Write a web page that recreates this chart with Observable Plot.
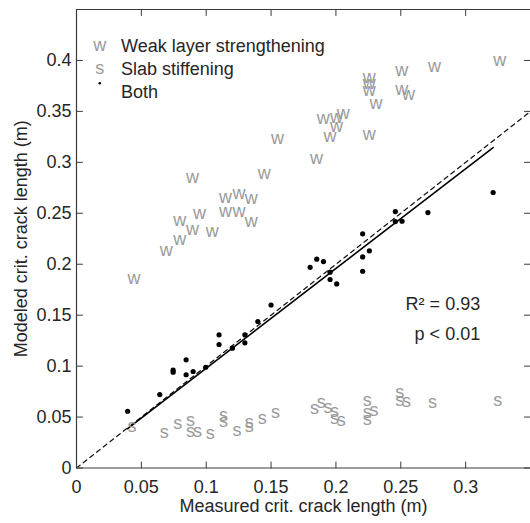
<!DOCTYPE html>
<html><head><meta charset="utf-8">
<script src="https://cdn.jsdelivr.net/npm/d3@7"></script>
<script src="https://cdn.jsdelivr.net/npm/@observablehq/plot@0.6"></script>
<style>
html,body{margin:0;padding:0;background:#fff;overflow:hidden;}
#chart svg{display:block;}
</style></head><body><div id="chart"></div>
<script>
// ---- data ----
const bothMeasured = [0.0394,0.0642,0.0745,0.0745,0.0845,0.0845,0.0899,0.0996,0.1099,0.1099,0.1202,0.1298,0.1298,0.1398,0.150,0.1801,0.1852,0.1904,0.1955,0.1955,0.2006,0.2206,0.2258,0.2206,0.2206,0.2458,0.2458,0.251,0.2709,0.3212];
const bothModeled  = [0.0557,0.0721,0.096,0.094,0.1062,0.0915,0.0947,0.0989,0.1307,0.1212,0.1176,0.1307,0.1229,0.1438,0.160,0.197,0.205,0.2026,0.1922,0.185,0.1807,0.2298,0.2131,0.2072,0.1931,0.2517,0.2419,0.2422,0.2507,0.2704];
const weakMeasured = [0.0394,0.0642,0.0745,0.0845,0.0745,0.0899,0.0996,0.0845,0.1099,0.1202,0.1298,0.1099,0.1202,0.1298,0.1398,0.150,0.1801,0.1852,0.1955,0.2006,0.1955,0.1904,0.2206,0.2206,0.2206,0.2206,0.2258,0.2458,0.2458,0.251,0.2709,0.3212];
const weakModeled  = [0.186,0.214,0.225,0.234,0.243,0.250,0.232,0.285,0.266,0.270,0.265,0.252,0.252,0.242,0.289,0.324,0.304,0.343,0.344,0.348,0.335,0.326,0.328,0.384,0.378,0.371,0.358,0.390,0.372,0.367,0.394,0.400];
const slabMeasured = [0.0394,0.0642,0.0745,0.0845,0.0845,0.0899,0.0996,0.1099,0.1099,0.1202,0.1298,0.1298,0.1398,0.150,0.1801,0.1852,0.1904,0.1955,0.1955,0.2006,0.2206,0.2206,0.2258,0.2206,0.2458,0.2458,0.251,0.2709,0.3212];
const slabModeled  = [0.041,0.035,0.0443,0.0473,0.0361,0.0361,0.0345,0.052,0.046,0.0375,0.045,0.041,0.0485,0.0545,0.059,0.0646,0.0597,0.0554,0.0489,0.0466,0.0665,0.0545,0.057,0.048,0.0744,0.0662,0.0656,0.0646,0.0669];

const xTicks = [0,0.05,0.1,0.15,0.2,0.25,0.3];
const yTicks = [0,0.05,0.1,0.15,0.2,0.25,0.3,0.35,0.4];
const xDomain = [0,0.35];
const yDomain = [0,0.45];
const legendLabels = ["Weak layer strengthening","Slab stiffening","Both"];
const legendSymbols = ["w","s"];
const statsLines = ["R\u00B2 = 0.93","p < 0.01"];
const xLabel = "Measured crit. crack length (m)";
const yLabel = "Modeled crit. crack length (m)";

// ---- build ----
const both = bothMeasured.map((x,i)=>({x, y: bothModeled[i]}));
const weak = weakMeasured.map((x,i)=>({x, y: weakModeled[i]}));
const slab = slabMeasured.map((x,i)=>({x, y: slabModeled[i]}));
// least squares fit through the origin
const slope = d3.sum(both, d=>d.x*d.y) / d3.sum(both, d=>d.x*d.x);
const fitX = d3.extent(bothMeasured);

const FONT = "'Liberation Sans', Arial, Helvetica, sans-serif";
const AX = "#3a3a3a";
const TXT = "#262626";
const GRAY = "#9a9a9a";
const fmt = d => String(+d.toFixed(2));
const tickShape = {draw(ctx, l){ ctx.moveTo(0,0); ctx.lineTo(0,-l); }};
const tickOpts = {length:6, anchor:"start", shape:tickShape, stroke:AX, strokeWidth:1};

const legendMarks = legendLabels.map((lab,i)=>
  Plot.text([lab], {frameAnchor:"top-left", text:d=>d, dx:44.5, dy:30.2+23*i, textAnchor:"start", fill:TXT, fontSize:18})
);
const legendSymbolMarks = legendSymbols.map((s,i)=>
  Plot.text([s], {frameAnchor:"top-left", text:d=>d, dx:23.3, dy:28.7+23*i, textAnchor:"middle", fill:GRAY, fontSize:18})
);

const chart = Plot.plot({
  width: 530,
  height: 523,
  marginLeft: 76,
  marginRight: 0,
  marginTop: 9,
  marginBottom: 55.5,
  style: {fontFamily: FONT, fontSize: "18px", color: TXT, background: "#fff"},
  x: {domain: xDomain, axis: null},
  y: {domain: yDomain, axis: null},
  marks: [
    // 1:1 line
    Plot.line(xDomain, {x:d=>d, y:d=>d, stroke:"#111", strokeWidth:1.2, strokeDasharray:"4.5,4", clip:true}),
    // fit line
    Plot.line(fitX, {x:d=>d, y:d=>slope*d, stroke:"#000", strokeWidth:1.6}),
    Plot.text(weak, {x:"x", y:"y", text:()=>"w", textAnchor:"start", fill:GRAY, fontSize:18}),
    Plot.text(slab, {x:"x", y:"y", text:()=>"s", textAnchor:"start", fill:GRAY, fontSize:18}),
    Plot.dot(both, {x:"x", y:"y", r:2.6, fill:"#000", stroke:null}),
    // frame (left, bottom, top)
    Plot.ruleX([xDomain[0]], {stroke:AX, strokeWidth:1.2}),
    Plot.ruleY([yDomain[0]], {stroke:AX, strokeWidth:1.2}),
    Plot.ruleY([yDomain[1]], {stroke:AX, strokeWidth:1.2}),
    // inward ticks on four sides
    Plot.vector(xTicks, {x:d=>d, y:()=>yDomain[0], rotate:0, ...tickOpts}),
    Plot.vector(xTicks, {x:d=>d, y:()=>yDomain[1], rotate:180, ...tickOpts}),
    Plot.vector(yTicks, {x:()=>xDomain[0], y:d=>d, rotate:90, ...tickOpts}),
    Plot.vector(yTicks, {x:()=>xDomain[1], y:d=>d, rotate:-90, ...tickOpts}),
    // tick labels
    Plot.axisX(xTicks, {anchor:"bottom", tickSize:0, tickPadding:12.5, tickFormat:fmt, fill:TXT, fontSize:18, label:null}),
    Plot.axisY(yTicks, {anchor:"left", tickSize:0, tickPadding:5, tickFormat:fmt, fill:TXT, fontSize:18, label:null}),
    // axis titles
    Plot.text([xLabel], {frameAnchor:"bottom", text:d=>d, dy:44, textAnchor:"middle", fill:TXT, fontSize:18}),
    Plot.text([yLabel], {frameAnchor:"left", text:d=>d, dx:-55.5, rotate:-90, textAnchor:"middle", fill:TXT, fontSize:18}),
    // stats annotation
    Plot.text(statsLines, {x:()=>0.3112, y:(d,i)=>[0.161,0.1315][i], text:d=>d, textAnchor:"end", fill:TXT, fontSize:18}),
    // legend
    ...legendSymbolMarks,
    Plot.dot([legendLabels[2]], {frameAnchor:"top-left", dx:23.3, dy:73.8, r:1.3, fill:"#000", stroke:null}),
    ...legendMarks
  ]
});
document.getElementById("chart").appendChild(chart);
</script>
</body></html>
